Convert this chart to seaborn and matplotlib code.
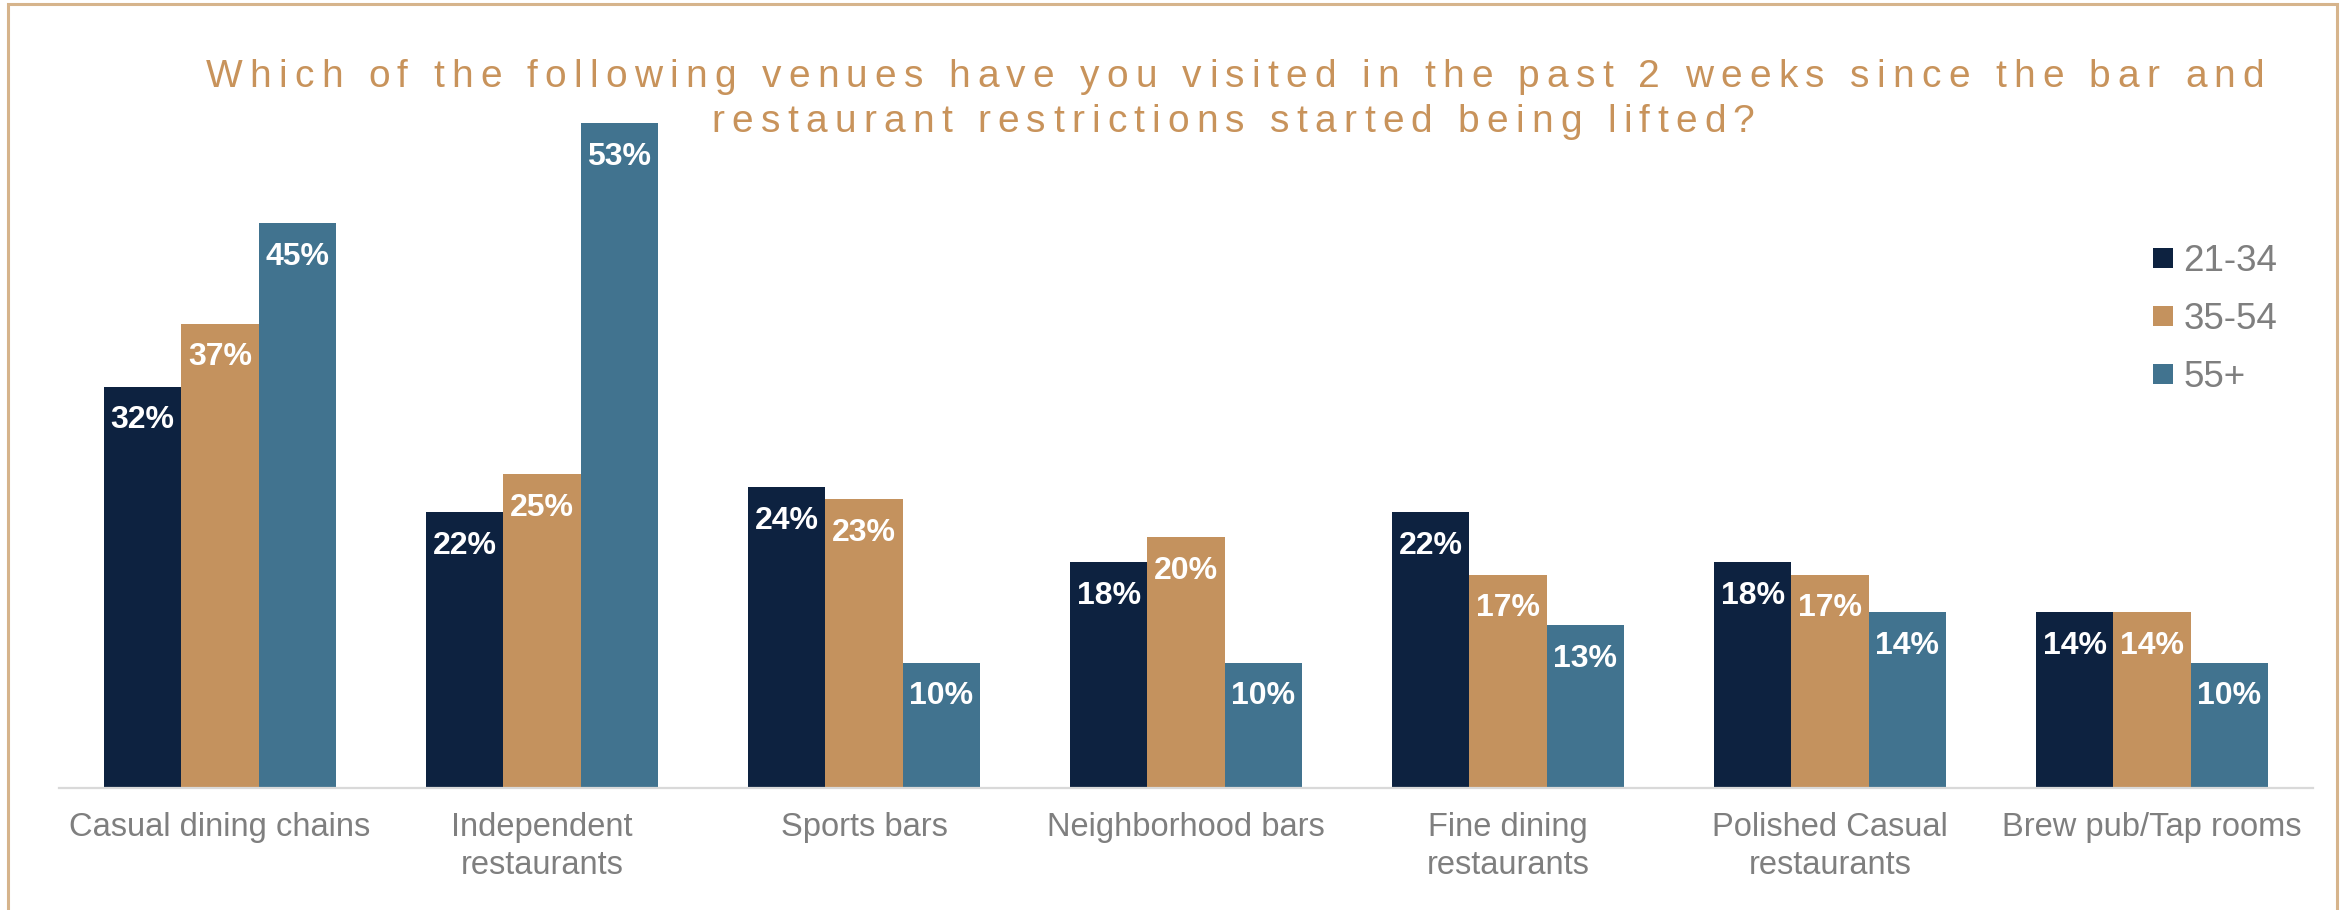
import matplotlib
matplotlib.use("Agg")
import matplotlib.pyplot as plt
from matplotlib.font_manager import FontProperties, findfont
from matplotlib.ft2font import FT2Font
from matplotlib.lines import Line2D
from matplotlib.patches import Rectangle
import pandas as pd
import seaborn as sns

# ---- data -------------------------------------------------------------
venues = [
    "Casual dining chains",
    "Independent\nrestaurants",
    "Sports bars",
    "Neighborhood bars",
    "Fine dining\nrestaurants",
    "Polished Casual\nrestaurants",
    "Brew pub/Tap rooms",
]
age_groups = ["21-34", "35-54", "55+"]
pct_21_34 = [32, 22, 24, 18, 22, 18, 14]
pct_35_54 = [37, 25, 23, 20, 17, 17, 14]
pct_55_plus = [45, 53, 10, 10, 13, 14, 10]

title_lines = [
    "Which of the following venues have you visited in the past 2 weeks since the bar and",
    "restaurant restrictions started being lifted?",
]

# ---- styling ----------------------------------------------------------
NAVY = "#0D2240"
TAN = "#C4925E"
STEEL = "#41738F"
GRAY_TEXT = "#7F7F7F"
TITLE_COLOR = "#C8935B"
FRAME_COLOR = "#D6B48C"

sns.set_theme(style="white")
plt.rcParams["font.family"] = ["Liberation Sans", "DejaVu Sans"]

df = pd.DataFrame({
    "venue": venues * 3,
    "age": [age_groups[0]] * len(venues) + [age_groups[1]] * len(venues) + [age_groups[2]] * len(venues),
    "pct": pct_21_34 + pct_35_54 + pct_55_plus,
})

W_PX, H_PX = 2348, 910
fig = plt.figure(figsize=(W_PX / 100, H_PX / 100), dpi=100)
ax = fig.add_axes([59 / W_PX, (H_PX - 788) / H_PX, 2254 / W_PX, 690 / H_PX])

sns.barplot(
    data=df, x="venue", y="pct", hue="age", order=venues, hue_order=age_groups,
    palette=[NAVY, TAN, STEEL], width=0.72, saturation=1, legend=False, ax=ax,
    linewidth=0,
)

ax.set_xlim(-0.5, len(venues) - 0.5)
ax.set_ylim(0, 55)
ax.set_xlabel("")
ax.set_ylabel("")
ax.set_yticks([])
for side in ("left", "right", "top"):
    ax.spines[side].set_visible(False)
ax.spines["bottom"].set_color("#D9D9D9")
ax.spines["bottom"].set_linewidth(1.6)
ax.tick_params(axis="x", length=0, pad=17, labelsize=23.5, labelcolor=GRAY_TEXT)
for lbl in ax.get_xticklabels():
    lbl.set_linespacing(1.3)

# value labels inside the top of each bar
for container in ax.containers:
    for bar, val in zip(container, container.datavalues):
        ax.annotate(
            f"{val:.0f}%",
            xy=(bar.get_x() + bar.get_width() / 2, bar.get_height()),
            xytext=(0, -30), textcoords="offset points",
            ha="center", va="baseline", color="white",
            fontsize=23, fontweight="bold",
        )

# legend with square swatches
handles = [
    Line2D([], [], marker="s", linestyle="none", markersize=13.7,
           markerfacecolor=c, markeredgewidth=0)
    for c in (NAVY, TAN, STEEL)
]
ax.legend(
    handles, age_groups, loc="upper left",
    bbox_to_anchor=(2153 / W_PX, 1 - 244 / H_PX), bbox_transform=fig.transFigure,
    frameon=False, fontsize=26.5, labelcolor=GRAY_TEXT,
    handlelength=0.52, handletextpad=0.3, labelspacing=0.62,
    borderpad=0, borderaxespad=0,
)


# letter-spaced title, placed glyph by glyph
def tracked_line(text, x_center, y_baseline, size, tracking, color):
    fp = FontProperties(family="Liberation Sans", size=size)
    font = FT2Font(findfont(fp), hinting_factor=1)
    font.set_size(size, fig.dpi)
    adv = [font.load_char(ord(ch)).linearHoriAdvance / 65536 for ch in text]
    total = sum(adv) + tracking * (len(text) - 1)
    x = x_center - total / 2
    for ch, a in zip(text, adv):
        if ch != " ":
            fig.text(x / W_PX, 1 - y_baseline / H_PX, ch, fontproperties=fp,
                     color=color, ha="left", va="baseline")
        x += a + tracking


tracked_line(title_lines[0], 1235, 87, 28, 7.2, TITLE_COLOR)
tracked_line(title_lines[1], 1233, 132, 28, 7.2, TITLE_COLOR)

# outer frame
fig.patches.append(Rectangle(
    (8 / W_PX, -0.05), (2337 - 8) / W_PX, 1.05 - 4 / H_PX,
    transform=fig.transFigure, fill=False, edgecolor=FRAME_COLOR, linewidth=2.2,
))

fig.savefig("out.png", dpi=100)
